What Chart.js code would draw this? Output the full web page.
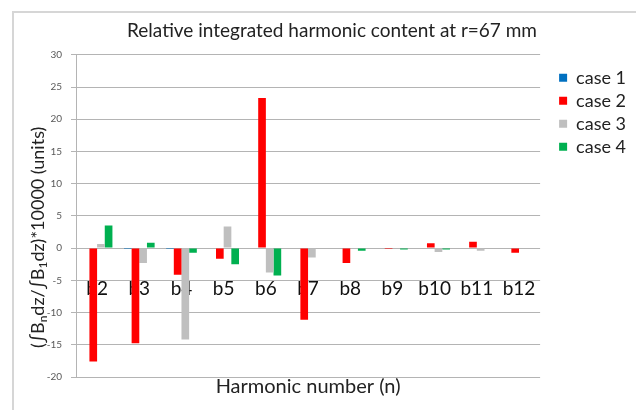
<!DOCTYPE html>
<html>
<head>
<meta charset="utf-8">
<script src="https://cdn.jsdelivr.net/npm/chart.js@4/dist/chart.umd.min.js"></script>
<style>
  html, body { margin: 0; padding: 0; background: #fff; }
  #wrap { position: relative; width: 636px; height: 410px; overflow: hidden; }
  #frame { position: absolute; left: 12px; top: 11px; width: 700px; height: 500px;
           border-left: 2px solid #d6d6d6; border-top: 2px solid #d6d6d6; }
  #chart { position: absolute; left: 0; top: 0; }
</style>
</head>
<body>
<div id="wrap">
  <div id="frame"></div>
  <canvas id="chart" width="636" height="410"></canvas>
</div>
<script>
// harmonic content data
const categories = ['b2', 'b3', 'b4', 'b5', 'b6', 'b7', 'b8', 'b9', 'b10', 'b11', 'b12'];
const case1 = [-0.05, -0.12, -0.12, -0.05, 0, 0, 0, 0, 0, 0, 0];
const case2 = [-17.6, -14.75, -4.15, -1.65, 23.3, -11.1, -2.3, -0.15, 0.75, 1.0, -0.7];
const case3 = [0.65, -2.3, -14.2, 3.35, -3.8, -1.45, -0.1, 0, -0.6, -0.4, 0];
const case4 = [3.5, 0.85, -0.7, -2.5, -4.25, 0, -0.4, -0.2, -0.2, 0, 0];

const yMin = -20;
const yMax = 30;
const yStep = 5;

const xTitle = 'Harmonic number (n)';
// y title pieces: [text, isSubscript]
const yTitleParts = [['(\u222BB', false], ['n', true], ['dz/\u222BB', false], ['1', true], ['dz)*10000 (units)', false]];

const FONT = 'Lato, "DejaVu Sans", sans-serif';
const gridColor = '#b4b4b4';
const textColor = '#222';

function makeSet(label, data, color) {
  return {
    label: label,
    data: data,
    backgroundColor: color,
    borderWidth: 0,
    categoryPercentage: 0.727,
    barPercentage: 1.0
  };
}

// axis titles, placed from the chart area (y title needs real subscripts)
const axisTitles = {
  id: 'axisTitles',
  afterDraw(chart) {
    const c = chart.ctx;
    const area = chart.chartArea;
    c.save();
    c.fillStyle = textColor;
    c.textBaseline = 'middle';

    // x title under the plot
    c.font = '20px ' + FONT;
    c.textAlign = 'center';
    c.fillText(xTitle, (area.left + area.right) / 2, area.bottom + 10);

    // y title, rotated, reading upwards; rotated glyphs come out wider than
    // measureText says, so anchor the start instead of centring on a measure
    const mainFont = '18px ' + FONT;
    const subFont = '12px ' + FONT;
    const cy = (area.top + area.bottom) / 2;
    c.translate(38, cy + 132);
    c.rotate(-Math.PI / 2);
    c.textAlign = 'left';
    let x = 0;
    yTitleParts.forEach(([t, sub]) => {
      c.font = sub ? subFont : mainFont;
      c.fillText(t, x, sub ? 5 : 0);
      x += c.measureText(t).width;
    });
    c.restore();
  }
};

const ctx = document.getElementById('chart').getContext('2d');
new Chart(ctx, {
  type: 'bar',
  data: {
    labels: categories,
    datasets: [
      makeSet('case 1', case1, '#0070c0'),
      makeSet('case 2', case2, '#ff0000'),
      makeSet('case 3', case3, '#bfbfbf'),
      makeSet('case 4', case4, '#00b050')
    ]
  },
  plugins: [axisTitles],
  options: {
    responsive: false,
    animation: false,
    layout: { padding: { left: 28, right: 0, top: 0, bottom: 33 } },
    plugins: {
      tooltip: { enabled: false },
      title: {
        display: true,
        text: 'Relative integrated harmonic content at r=67 mm',
        color: textColor,
        font: { family: FONT, size: 19, weight: 'normal' },
        padding: { top: 19, bottom: 13 }
      },
      legend: {
        position: 'right',
        align: 'start',
        fullSize: false,
        title: { display: true, text: ' ', font: { size: 5 }, padding: { top: 0, bottom: 3 } },
        labels: {
          boxWidth: 8,
          boxHeight: 8,
          padding: 5,
          color: textColor,
          font: { family: FONT, size: 18 }
        }
      }
    },
    scales: {
      x: {
        type: 'category',
        position: { y: -5 },
        offset: true,
        grid: { display: false, drawTicks: false },
        border: { display: false },
        ticks: {
          color: '#111',
          padding: -3,
          maxRotation: 0,
          autoSkip: false,
          font: { family: FONT, size: 19 }
        },
        afterFit: scale => { scale.height = 0; }
      },
      y: {
        position: 'left',
        min: yMin,
        max: yMax,
        ticks: {
          stepSize: yStep,
          color: '#595959',
          padding: 9,
          font: { family: FONT, size: 10 }
        },
        grid: { color: gridColor, lineWidth: 1, tickLength: 5 },
        border: { color: gridColor },
        afterFit: scale => { scale.width = 48; }
      },
      gap: {
        position: 'right',
        min: 0,
        max: 1,
        grid: { display: false },
        border: { display: false },
        ticks: { display: false },
        afterFit: scale => { scale.width = 14; }
      }
    }
  }
});
</script>
</body>
</html>
